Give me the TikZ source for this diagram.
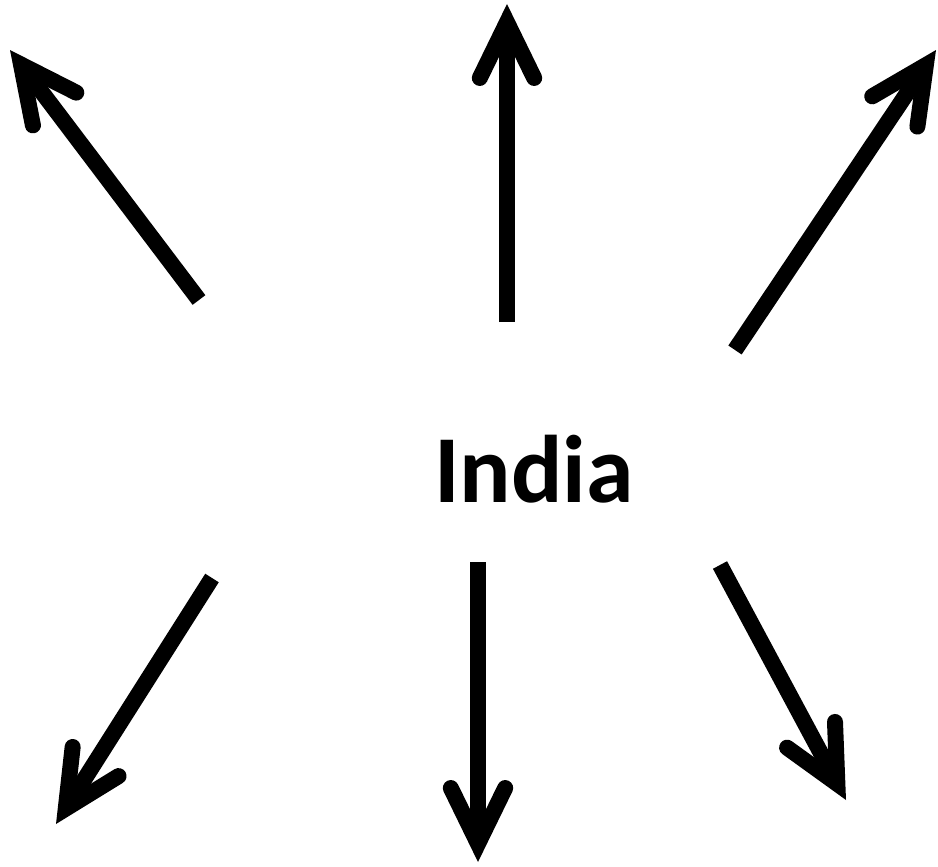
\documentclass[tikz,border=0pt]{standalone}
\usepackage{fontspec}
\newfontfamily\carlito{Carlito}
\usetikzlibrary{arrows.meta}
\tikzset{
  ray/.style={line width=8pt,
              -{Straight Barb[angle=52:31pt,line cap=round,line join=miter]}},
  lbl/.style={font=\carlito\bfseries\fontsize{48}{58}\selectfont,inner sep=0pt},
}

\begin{document}
\begin{tikzpicture}[x=0.5pt,y=-0.5pt]
    \useasboundingbox (0,0) rectangle (938,867);
    \node[lbl,anchor=base] (india) at (534,502) {India};
    % start and tip of each arrow
    \coordinate (nwS) at (199,300);  \coordinate (nwT) at (10,50);
    \coordinate (nS)  at (507,322);  \coordinate (nT)  at (507,4);
    \coordinate (neS) at (735,350);  \coordinate (neT) at (936,50);
    \coordinate (swS) at (212,578);  \coordinate (swT) at (56,824);
    \coordinate (sS)  at (478,562);  \coordinate (sT)  at (478,862);
    \coordinate (seS) at (720,565);  \coordinate (seT) at (846,800);
    \foreach \d in {nw,n,ne,sw,s,se}
      \draw[ray] (\d S) -- (\d T);
\end{tikzpicture}
\end{document}
